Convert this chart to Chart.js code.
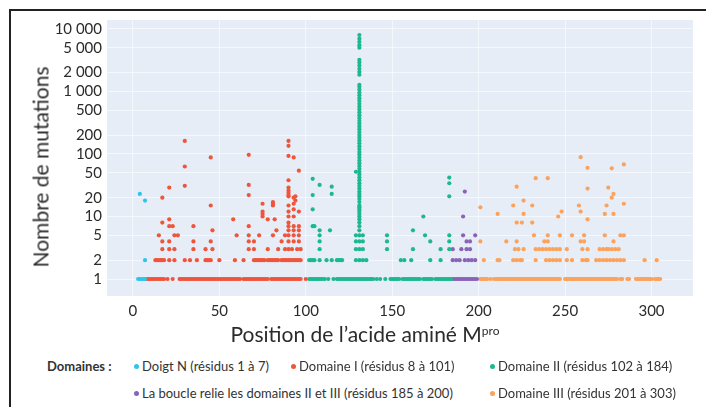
<!DOCTYPE html>
<html lang="fr">
<head>
<meta charset="utf-8">
<script src="https://cdn.jsdelivr.net/npm/chart.js@4.4.1/dist/chart.umd.min.js"></script>
<style>
  html, body { margin: 0; padding: 0; background: #fff; }
  body { width: 706px; height: 407px; position: relative; overflow: hidden;
         font-family: Lato, "Open Sans", sans-serif; color: #2b2b2b; }
  #frame { position: absolute; left: 9px; top: 9px; width: 720px; height: 420px;
           border-top: 2px solid #222; border-left: 2px solid #222; }
  #wrap { position: absolute; left: 0; top: 0; }
  .ytitle { position: absolute; left: 40px; top: 167px; transform: translate(-50%, -50%) rotate(-90deg);
            font-size: 21px; white-space: nowrap; }
  .xtitle { position: absolute; left: 365px; top: 333px; transform: translate(-50%, -50%);
            font-size: 21px; white-space: nowrap; }
  .xtitle sup { font-size: 12px; vertical-align: 7px; }
  .lg { position: absolute; font-size: 13px; white-space: nowrap; transform: translateY(-50%); color: #333; }
  .lg b { font-weight: bold; }
  .dot { display: inline-block; width: 5px; height: 5px; border-radius: 50%; margin-right: 3px; vertical-align: 2px; }
</style>
</head>
<body>
<div id="frame"></div>
<div id="wrap"><canvas id="chart" width="706" height="322"></canvas></div>
<div class="ytitle">Nombre de mutations</div>
<div class="xtitle">Position de l’acide aminé M<sup>pro</sup></div>
<div class="lg" style="left:47px; top:366px;"><b>Domaines :</b></div>
<div class="lg" style="left:134px; top:366px;"><span class="dot" style="background:#2ec4ec"></span>Doigt N (résidus 1 à 7)</div>
<div class="lg" style="left:291px; top:366px;"><span class="dot" style="background:#ef553b"></span>Domaine I (résidus 8 à 101)</div>
<div class="lg" style="left:490px; top:366px;"><span class="dot" style="background:#1db88e"></span>Domaine II (résidus 102 à 184)</div>
<div class="lg" style="left:134px; top:393px;"><span class="dot" style="background:#8a63b9"></span>La boucle relie les domaines II et III (résidus 185 à 200)</div>
<div class="lg" style="left:490px; top:393px;"><span class="dot" style="background:#fca25a"></span>Domaine III (résidus 201 à 303)</div>

<script>
// axes
const xTicks = [0, 50, 100, 150, 200, 250, 300];
const yTicks = [1, 2, 5, 10, 20, 50, 100, 200, 500, 1000, 2000, 5000, 10000];

// résidus avec 1 mutation (ligne du bas)
const cyanBase = [3, 4, 5, 6, 7];
const redBase = [8, 9, 10, 11, 12, 13, 14, 15, 16, 17, 18, 20, 23, 27, 28, 29, 30, 31, 32, 33, 34, 35,
  36, 37, 38, 39, 40, 41, 42, 43, 44, 45, 46, 47, 48, 49, 50, 51, 52, 53, 54, 55, 56, 57, 58, 59, 60,
  61, 62, 64, 65, 66, 67, 68, 69, 70, 71, 72, 73, 74, 75, 76, 77, 78, 80, 81, 82, 83, 84, 85, 86, 87,
  88, 89, 90, 91, 92, 93, 94, 95, 96, 97, 100];
const greenBase = [102, 103, 104, 105, 106, 107, 108, 109, 110, 111, 113, 116, 118, 119, 120, 121, 122,
  123, 124, 125, 126, 127, 128, 129, 130, 131, 132, 133, 134, 135, 136, 137, 138, 139, 141, 143, 146,
  149, 150, 151, 152, 153, 154, 156, 157, 158, 159, 160, 161, 162, 163, 164, 165, 166, 168, 169, 170,
  171, 172, 173, 175, 176, 177, 178, 179, 180, 181, 182, 183, 184];
const purpleBase = [185, 186, 187, 188, 189, 190, 191, 192, 193, 194, 195, 196, 197, 198, 199];
const orangeBase = [201, 202, 203, 204, 205, 207, 209, 210, 211, 212, 213, 214, 215, 216, 217, 218, 219,
  220, 221, 222, 223, 224, 225, 226, 227, 228, 229, 230, 231, 232, 233, 234, 235, 236, 237, 238, 239,
  240, 241, 242, 243, 244, 245, 246, 247, 250, 251, 252, 253, 254, 255, 256, 257, 258, 259, 260, 261,
  262, 263, 264, 265, 266, 267, 268, 269, 270, 271, 272, 273, 274, 275, 276, 277, 278, 279, 280, 282,
  283, 286, 287, 291, 292, 293, 294, 295, 296, 297, 298, 299, 300, 302, 303, 304, 305];

// [nombre de mutations, résidus]
const cyanRows = [[2, [7]], [18, [7]], [23, [4]]];
const redRows = [
  [2, [13, 14, 15, 16, 17, 18, 21, 24, 30, 33, 37, 42, 43, 44, 45, 50, 59, 64, 70, 71, 72, 73, 74, 75, 76,
       78, 79, 80, 81, 82, 83, 84, 86, 87, 88, 89, 90, 91, 92, 93, 94, 95, 96, 97]],
  [3, [17, 21, 24, 35, 42, 46, 67, 70, 78, 84, 88, 90, 92, 95, 97]],
  [4, [17, 21, 35, 45, 67, 70, 86, 90, 93, 96]],
  [5, [15, 24, 26, 60, 67, 73, 81, 88, 90, 93, 96]],
  [6, [46, 83, 90, 93, 96]],
  [7, [21, 23, 35, 67, 90, 93, 96]],
  [8, [17, 90]],
  [9, [21, 58, 78, 82]],
  [10, [75, 90, 93]],
  [11, [75]],
  [12, [75, 90, 96]],
  [13, [93]],
  [15, [45, 81, 90]],
  [16, [75, 81, 93]],
  [17, [81]],
  [18, [94]],
  [20, [17, 93]],
  [21, [90, 94]],
  [22, [67, 90]],
  [24, [90]],
  [26, [90]],
  [29, [21, 90]],
  [31, [30]],
  [32, [67]],
  [38, [90]],
  [54, [96]],
  [63, [30]],
  [88, [45, 93]],
  [93, [90]],
  [97, [67]],
  [135, [90]],
  [162, [30, 90]]
];
const greenRows = [
  [2, [102, 103, 104, 105, 108, 112, 115, 118, 119, 120, 121, 129, 131, 133, 135, 155, 157, 161, 172, 178]],
  [3, [108, 129, 131, 133, 147, 162, 178, 183]],
  [4, [108, 129, 131, 133, 147, 172, 183]],
  [5, [108, 129, 133, 147, 169, 183]],
  [6, [108, 114, 162]],
  [7, [104, 105]],
  [10, [168]],
  [13, [104]],
  [21, [183]],
  [22, [104]],
  [23, [115]],
  [30, [115]],
  [32, [108]],
  [34, [183]],
  [40, [104]],
  [42, [183]],
  [52, [129]]
];
// colonne du résidu 131
const greenColumnResidue = 131;
const greenColumn = [5, 6, 7, 8, 9, 10, 11, 12, 13, 14, 15, 17, 19, 21, 23, 25, 28, 31, 34, 38, 42, 47,
  52, 58, 64, 71, 79, 88, 98, 108, 120, 133, 148, 164, 182, 202, 224, 249, 276, 306, 340, 377, 418,
  464, 515, 572, 635, 705, 782, 868, 963, 1070, 1190, 1280, 1850, 2050, 2300, 2600, 2900, 3200,
  5000, 5500, 6200, 7000, 8000];
const purpleRows = [
  [2, [185, 187, 189, 192, 194, 196, 198]],
  [3, [185, 190, 193, 195]],
  [4, [193, 195]],
  [5, [191, 198]],
  [10, [191]],
  [25, [192]]
];
const orangeRows = [
  [2, [203, 211, 212, 220, 222, 224, 225, 233, 239, 241, 243, 245, 247, 251, 254, 260, 262, 263, 268,
       270, 272, 274, 276, 278, 280, 282, 284, 296, 303]],
  [3, [221, 223, 226, 233, 235, 237, 239, 241, 243, 245, 247, 251, 260, 263, 270, 272, 274, 275, 277, 279, 281]],
  [4, [201, 216, 222, 238, 240, 259, 261, 278]],
  [5, [232, 240, 247, 254, 261, 273, 282, 284]],
  [8, [222, 225, 231]],
  [9, [263]],
  [10, [246]],
  [11, [211, 226, 273, 278]],
  [12, [248, 259]],
  [14, [201]],
  [15, [220, 231, 258, 274]],
  [16, [284]],
  [18, [226]],
  [20, [277]],
  [23, [278]],
  [28, [263]],
  [29, [275]],
  [30, [222]],
  [41, [233, 240]],
  [59, [277]],
  [60, [263]],
  [68, [284]],
  [89, [259]]
];

function toPoints(base, rows) {
  const pts = base.map(r => ({ x: r, y: 1 }));
  rows.forEach(([count, residues]) => residues.forEach(r => pts.push({ x: r, y: count })));
  return pts;
}

const fontFamily = 'Lato, "Open Sans", sans-serif';

const plotBg = {
  id: "plotBg",
  beforeDraw(chart) {
    const { ctx, chartArea: a } = chart;
    ctx.save();
    ctx.fillStyle = "#e6edf6";
    ctx.fillRect(a.left, a.top, a.right - a.left, a.bottom - a.top);
    ctx.restore();
  }
};

function ds(label, data, color) {
  return { label, data, backgroundColor: color, borderWidth: 0, pointRadius: 2.1, pointHoverRadius: 2.1 };
}

const greenPts = toPoints(greenBase, greenRows)
  .concat(greenColumn.map(v => ({ x: greenColumnResidue, y: v })));

new Chart(document.getElementById("chart").getContext("2d"), {
  type: "scatter",
  data: {
    datasets: [
      ds("Doigt N (résidus 1 à 7)", toPoints(cyanBase, cyanRows), "#2ec4ec"),
      ds("Domaine I (résidus 8 à 101)", toPoints(redBase, redRows), "#ef553b"),
      ds("Domaine II (résidus 102 à 184)", greenPts, "#1db88e"),
      ds("La boucle relie les domaines II et III (résidus 185 à 200)", toPoints(purpleBase, purpleRows), "#8a63b9"),
      ds("Domaine III (résidus 201 à 303)", toPoints(orangeBase, orangeRows), "#fca25a")
    ]
  },
  options: {
    responsive: false,
    animation: false,
    layout: { padding: { top: 20, right: 13, left: 0, bottom: 0 } },
    plugins: { legend: { display: false }, tooltip: { enabled: false } },
    scales: {
      x: {
        type: "linear",
        min: -15,
        max: 324,
        afterBuildTicks: s => { s.ticks = xTicks.map(v => ({ value: v })); },
        afterFit: s => { s.height = 26; },
        grid: { color: "rgba(255,255,255,0.55)", lineWidth: 1, drawTicks: false },
        border: { display: false },
        ticks: { padding: 6, color: "#2b2b2b", font: { family: fontFamily, size: 15 } }
      },
      y: {
        type: "logarithmic",
        min: 0.535,
        max: 13900,
        afterBuildTicks: s => { s.ticks = yTicks.map(v => ({ value: v })); },
        afterFit: s => { s.width = 107; },
        grid: { color: "rgba(255,255,255,0.55)", lineWidth: 1, drawTicks: false },
        border: { display: false },
        ticks: {
          padding: 5,
          color: "#2b2b2b",
          font: { family: fontFamily, size: 15 },
          callback: v => String(v).replace(/\B(?=(\d{3})+(?!\d))/g, " ")
        }
      }
    }
  },
  plugins: [plotBg]
});
</script>
</body>
</html>
